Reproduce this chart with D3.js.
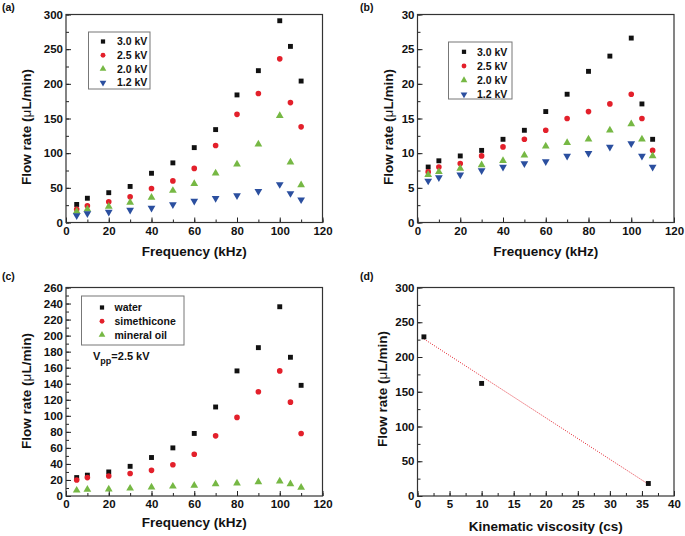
<!DOCTYPE html>
<html>
<head>
<meta charset="utf-8">
<script src="https://cdn.jsdelivr.net/npm/d3@7"></script>
<style>
  body { margin: 0; background: #fff; }
  svg { font-family: "Liberation Sans", Arial, sans-serif; font-weight: bold; }
</style>
</head>
<body>
<script>
// data
let freq = [5, 10, 20, 30, 40, 50, 60, 70, 80, 90, 100, 105, 110]

let voltLabels = ['3.0 kV', '2.5 kV', '2.0 kV', '1.2 kV']
let flowA30 = [26, 35, 43, 52, 71, 86, 108, 134, 184, 219, 291, 254, 204]
let flowA25 = [19, 24, 30, 37, 49, 60, 78, 111, 156, 186, 236, 173, 138]
let flowA20 = [16, 19, 23, 29, 36, 46, 56, 71, 84, 113, 154, 87, 54]
let flowA12 = [10, 13, 15, 18, 21, 26, 31, 35, 39, 45, 55, 42, 33]

let flowB30 = [8.0, 8.9, 9.6, 10.4, 12.0, 13.3, 16.0, 18.5, 21.8, 24.0, 26.6, 17.1, 12.0]
let flowB25 = [7.3, 8.0, 8.5, 9.6, 10.9, 12.0, 13.3, 15.0, 16.0, 17.1, 18.5, 15.0, 10.4]
let flowB20 = [6.9, 7.3, 7.8, 8.3, 8.9, 9.7, 11.0, 11.5, 12.0, 13.3, 14.2, 12.0, 9.6]
let flowB12 = [6.0, 6.5, 6.9, 7.5, 8.0, 8.5, 8.8, 9.6, 10.0, 10.9, 11.4, 9.6, 8.0]

let liquidLabels = ['water', 'simethicone', 'mineral oil']
let flowWater = [23, 26, 30, 37, 48, 60, 78, 111, 156, 185, 236, 173, 138]
let flowSime = [20, 23, 25, 28, 32, 39, 52, 75, 98, 130, 156, 117, 78]
let flowOil = [7, 8, 8.5, 9.5, 11, 12, 13, 15, 16, 17.5, 18.5, 15, 10.5]

let viscosity = [1, 10, 36]
let flowVisc = [229, 162, 18]
let fitX = [1, 36]
let fitY = [226, 17]

let width = 685,
    height = 536

let colors = ['#111111', '#e3202b', '#76b844', '#2b4f9f']
let shapes = [
    {type: d3.symbolSquare, size: 24, rot: 0},
    {type: d3.symbolCircle, size: 25, rot: 0},
    {type: d3.symbolTriangle, size: 26, rot: 0},
    {type: d3.symbolTriangle, size: 26, rot: 180}
]

let svg = d3.select('body').append('svg')
    .attr('width', width)
    .attr('height', height)

function drawPanel(cfg) {
    let g = svg.append('g')

    let x = d3.scaleLinear().domain(cfg.xDomain).range([cfg.left, cfg.right])
    let y = d3.scaleLinear().domain(cfg.yDomain).range([cfg.bottom, cfg.top])

    let eps = 1e-6
    let xMajor = d3.range(cfg.xDomain[0], cfg.xDomain[1] + eps, cfg.xStep)
    let xMinor = d3.range(cfg.xDomain[0], cfg.xDomain[1] + eps, cfg.xStep / 2)
    let yMajor = d3.range(cfg.yDomain[0], cfg.yDomain[1] + eps, cfg.yStep)
    let yMinor = d3.range(cfg.yDomain[0], cfg.yDomain[1] + eps, cfg.yStep / 2)

    // minor ticks
    g.append('g')
        .attr('transform', 'translate(0,' + cfg.bottom + ')')
        .call(d3.axisBottom(x).tickValues(xMinor).tickSize(-3).tickFormat(''))
    g.append('g')
        .attr('transform', 'translate(' + cfg.left + ',0)')
        .call(d3.axisLeft(y).tickValues(yMinor).tickSize(-3).tickFormat(''))

    // major ticks
    g.append('g')
        .attr('class', 'xaxis')
        .attr('transform', 'translate(0,' + cfg.bottom + ')')
        .call(d3.axisBottom(x).tickValues(xMajor).tickSizeInner(-5).tickSizeOuter(0).tickPadding(4))
    g.append('g')
        .attr('class', 'yaxis')
        .attr('transform', 'translate(' + cfg.left + ',0)')
        .call(d3.axisLeft(y).tickValues(yMajor).tickSizeInner(-5).tickSizeOuter(0).tickPadding(3))

    g.selectAll('.domain').remove()
    g.selectAll('.tick line').attr('stroke', '#222')
    g.selectAll('.tick text')
        .attr('fill', '#111')
        .style('font-size', '11.5px')
        .style('font-weight', 'bold')
        .style('font-family', '"Liberation Sans", Arial, sans-serif')

    g.append('rect')
        .attr('x', cfg.left)
        .attr('y', cfg.top)
        .attr('width', cfg.right - cfg.left)
        .attr('height', cfg.bottom - cfg.top)
        .attr('fill', 'none')
        .attr('stroke', '#333')
        .attr('stroke-width', 1.2)

    if (cfg.fit) {
        g.append('path')
            .datum(d3.zip(cfg.fit[0], cfg.fit[1]))
            .attr('d', d3.line().x(d => x(d[0])).y(d => y(d[1])))
            .attr('fill', 'none')
            .attr('stroke', '#e3202b')
            .attr('stroke-width', 1)
            .attr('stroke-dasharray', '1,1.4')
    }

    cfg.series.forEach(function(s, i) {
        let sh = shapes[i]
        g.append('g').selectAll('path')
            .data(d3.zip(s.xs, s.ys))
            .join('path')
            .attr('d', d3.symbol().type(sh.type).size(sh.size))
            .attr('transform', d => 'translate(' + x(d[0]) + ',' + y(d[1]) + ') rotate(' + sh.rot + ')')
            .attr('fill', colors[i])
    })

    // axis titles
    g.append('text')
        .attr('x', (cfg.left + cfg.right) / 2)
        .attr('y', cfg.xTitleY)
        .attr('text-anchor', 'middle')
        .style('font-size', '13.5px')
        .attr('fill', '#111')
        .text(cfg.xTitle)

    let yt = g.append('text')
        .attr('transform', 'translate(' + cfg.yTitleX + ',' + cfg.yTitleC + ') rotate(-90)')
        .attr('text-anchor', 'middle')
        .style('font-size', '13.5px')
        .attr('fill', '#111')
    yt.append('tspan').text('Flow rate (')
    yt.append('tspan').style('font-weight', 'normal').text('\u03bc')
    yt.append('tspan').text('L/min)')

    // panel letter
    g.append('text')
        .attr('x', cfg.tagX)
        .attr('y', cfg.tagY)
        .style('font-size', '10.5px')
        .attr('fill', '#111')
        .text(cfg.tag)

    // legend
    if (cfg.legend) {
        let lg = cfg.legend
        g.append('rect')
            .attr('x', lg.x)
            .attr('y', lg.y)
            .attr('width', lg.w)
            .attr('height', lg.h)
            .attr('fill', '#fff')
            .attr('stroke', '#777')
            .attr('stroke-width', 1)
        lg.labels.forEach(function(lab, i) {
            let sh = shapes[i]
            let cy = lg.y + lg.first + i * lg.step
            g.append('path')
                .attr('d', d3.symbol().type(sh.type).size(sh.size * 0.75))
                .attr('transform', 'translate(' + (lg.x + lg.symX) + ',' + cy + ') rotate(' + sh.rot + ')')
                .attr('fill', colors[i])
            g.append('text')
                .attr('x', lg.x + lg.textX)
                .attr('y', cy)
                .attr('dy', '0.36em')
                .style('font-size', '10.5px')
                .attr('fill', '#111')
                .text(lab)
        })
    }
    return {g: g, x: x, y: y}
}

drawPanel({
    tag: '(a)', tagX: 2, tagY: 11,
    left: 66, right: 322.5, top: 14.5, bottom: 222.5,
    xDomain: [0, 120], xStep: 20, yDomain: [0, 300], yStep: 50,
    xTitle: 'Frequency (kHz)', xTitleY: 256,
    yTitleX: 30.5, yTitleC: 127,
    series: [
        {xs: freq, ys: flowA30}, {xs: freq, ys: flowA25},
        {xs: freq, ys: flowA20}, {xs: freq, ys: flowA12}
    ],
    legend: {x: 88.5, y: 32, w: 61.5, h: 57, first: 9.5, step: 13.7, symX: 14.5, textX: 28.5, labels: voltLabels}
})

drawPanel({
    tag: '(b)', tagX: 360, tagY: 11,
    left: 417.5, right: 674, top: 14.5, bottom: 222.5,
    xDomain: [0, 120], xStep: 20, yDomain: [0, 30], yStep: 5,
    xTitle: 'Frequency (kHz)', xTitleY: 256,
    yTitleX: 393, yTitleC: 127,
    series: [
        {xs: freq, ys: flowB30}, {xs: freq, ys: flowB25},
        {xs: freq, ys: flowB20}, {xs: freq, ys: flowB12}
    ],
    legend: {x: 448.5, y: 42, w: 63.5, h: 57, first: 9.8, step: 14.2, symX: 15.5, textX: 28.5, labels: voltLabels}
})

let pc = drawPanel({
    tag: '(c)', tagX: 2, tagY: 280,
    left: 66, right: 322.5, top: 287.5, bottom: 496,
    xDomain: [0, 120], xStep: 20, yDomain: [0, 260], yStep: 20,
    xTitle: 'Frequency (kHz)', xTitleY: 527,
    yTitleX: 30.5, yTitleC: 391,
    series: [
        {xs: freq, ys: flowWater}, {xs: freq, ys: flowSime}, {xs: freq, ys: flowOil}
    ],
    legend: {x: 81.5, y: 296, w: 102.5, h: 49, first: 11.5, step: 13.7, symX: 20.5, textX: 33, labels: liquidLabels}
})

let vpp = pc.g.append('text')
    .attr('x', 93)
    .attr('y', 360)
    .style('font-size', '11px')
    .attr('fill', '#111')
vpp.append('tspan').text('V')
vpp.append('tspan').attr('dy', 3.5).style('font-size', '9px').text('pp')
vpp.append('tspan').attr('dy', -3.5).text('=2.5 kV')

drawPanel({
    tag: '(d)', tagX: 360, tagY: 280,
    left: 417.5, right: 674, top: 287.5, bottom: 496,
    xDomain: [0, 40], xStep: 5, yDomain: [0, 300], yStep: 50,
    xTitle: 'Kinematic viscosity (cs)', xTitleY: 531,
    yTitleX: 387, yTitleC: 389,
    fit: [fitX, fitY],
    series: [{xs: viscosity, ys: flowVisc}]
})
</script>
</body>
</html>
